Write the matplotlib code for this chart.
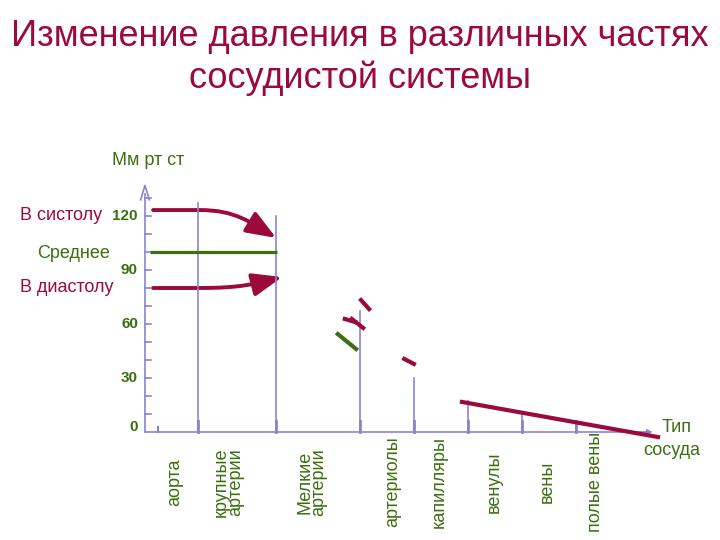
import matplotlib.pyplot as plt
from matplotlib.patches import FancyArrowPatch
from matplotlib.path import Path

# --- данные ---
vessels = ["аорта", "крупные\nартерии", "Мелкие\nартерии", "артериолы",
           "капилляры", "венулы", "вены", "полые вены"]
label_x = [0.56, 1.54, 3.09, 4.59, 5.44, 6.46, 7.44, 8.35]
boundaries = [0.98, 2.43, 3.98, 4.98, 5.98, 6.98, 7.98]
boundary_heights = [127, 120, 67, 30, 17, 10.5, 6]

mean_p = 100
# систолическое и диастолическое давление: прямой участок + изгиб к стрелке
systole_x = [0.15, 1.02, 1.67, 1.94, 2.43]
systole_y = [123.3, 123.3, 123.3, 116.7, 107.8]
diastole_x = [0.15, 1.02, 1.76, 2.04, 2.54]
diastole_y = [80.0, 80.0, 80.0, 82.2, 86.1]

# обрывки линий давления у артериол
red_dashes = [([4.00, 4.15], [73.3, 68.3]),
              ([3.70, 3.89], [62.8, 61.1]),
              ([3.83, 4.04], [62.8, 57.8]),
              ([4.80, 4.98], [40.6, 37.8])]
green_dashes = [([3.57, 3.91], [54.4, 46.1])]

venous_x = [5.87, 9.50]
venous_y = [16.7, -2.8]

yticks = [0, 30, 60, 90, 120]

RED = "#9b0a3a"
GREEN = "#3a7010"
LINE_GREEN = "#3d6e12"
BLUE = "#8585d6"

fig = plt.figure(figsize=(7.2, 5.4), dpi=100)
ax = fig.add_axes([0, 0, 1, 1])
ax.set_xlim(-2.685, 10.648)
ax.set_ylim(-60, 240)
ax.axis("off")

# оси
ax.plot([0, 0], [0, 132], color=BLUE, lw=1.2)
ax.plot([0, 9.3], [0, 0], color=BLUE, lw=1.2)
ax.plot([-0.08, 0, 0.08], [129, 137, 129], color=BLUE, lw=1.2)
ax.add_patch(FancyArrowPatch((9.2, 0), (9.45, 0), arrowstyle="-|>",
                             mutation_scale=8, color=BLUE, lw=1))
for v in range(10, 131, 10):
    ax.plot([0, 0.11], [v, v], color=BLUE, lw=1.2)
ax.plot([0.24, 0.24], [0, 3], color=BLUE, lw=1.5)

# вертикальные границы
for bx, h in zip(boundaries, boundary_heights):
    ax.plot([bx, bx], [0, h], color=BLUE, lw=1.2)
    ax.plot([bx, bx], [0, 6], color=BLUE, lw=2)


def curved_arrow(xs, ys):
    codes = [Path.MOVETO, Path.LINETO, Path.CURVE4, Path.CURVE4, Path.CURVE4]
    return FancyArrowPatch(path=Path(list(zip(xs, ys)), codes),
                           arrowstyle="-|>,head_length=1.8,head_width=0.7",
                           mutation_scale=10, color=RED, lw=2.8,
                           shrinkA=0, shrinkB=0)


# давление в артериях
ax.add_patch(curved_arrow(systole_x, systole_y))
ax.plot([0.1, 2.45], [mean_p, mean_p], color=LINE_GREEN, lw=2.3, solid_capstyle="butt")
ax.add_patch(curved_arrow(diastole_x, diastole_y))

for xs, ys in red_dashes:
    ax.plot(xs, ys, color=RED, lw=3)
for xs, ys in green_dashes:
    ax.plot(xs, ys, color=LINE_GREEN, lw=3)

ax.plot(venous_x, venous_y, color=RED, lw=3)

# подписи делений
for v in yticks:
    ax.text(-0.13, v + 3 if v == 0 else v, str(v), ha="right", va="center",
            fontsize=11, fontweight="bold", color=GREEN, family="Liberation Sans")

# подписи сосудов
for lx, name in zip(label_x, vessels):
    ax.text(lx, -27.8, name, rotation=90, ha="center", va="center",
            fontsize=13, color=GREEN, family="Liberation Sans", linespacing=0.8)

txt = dict(family="Liberation Sans", fontsize=13)
ax.text(0.06, 151, "Мм рт ст", ha="center", va="center", color=GREEN, **txt)
ax.text(-2.32, 120, "В систолу", ha="left", va="center", color=RED, **txt)
ax.text(-2.0, 99, "Среднее", ha="left", va="center", color=GREEN, **txt)
ax.text(-2.32, 80, "В диастолу", ha="left", va="center", color=RED, **txt)
ax.text(9.85, 2.5, "Тип", ha="center", va="center", color=GREEN, **txt)
ax.text(9.75, -10.5, "сосуда", ha="center", va="center", color=GREEN, **txt)

fig.text(0.5, 0.894, "Изменение давления в различных частях\nсосудистой системы",
         ha="center", va="center", fontsize=26, color=RED,
         family="Liberation Sans", linespacing=1.25)

fig.savefig("out.png", dpi=100)
